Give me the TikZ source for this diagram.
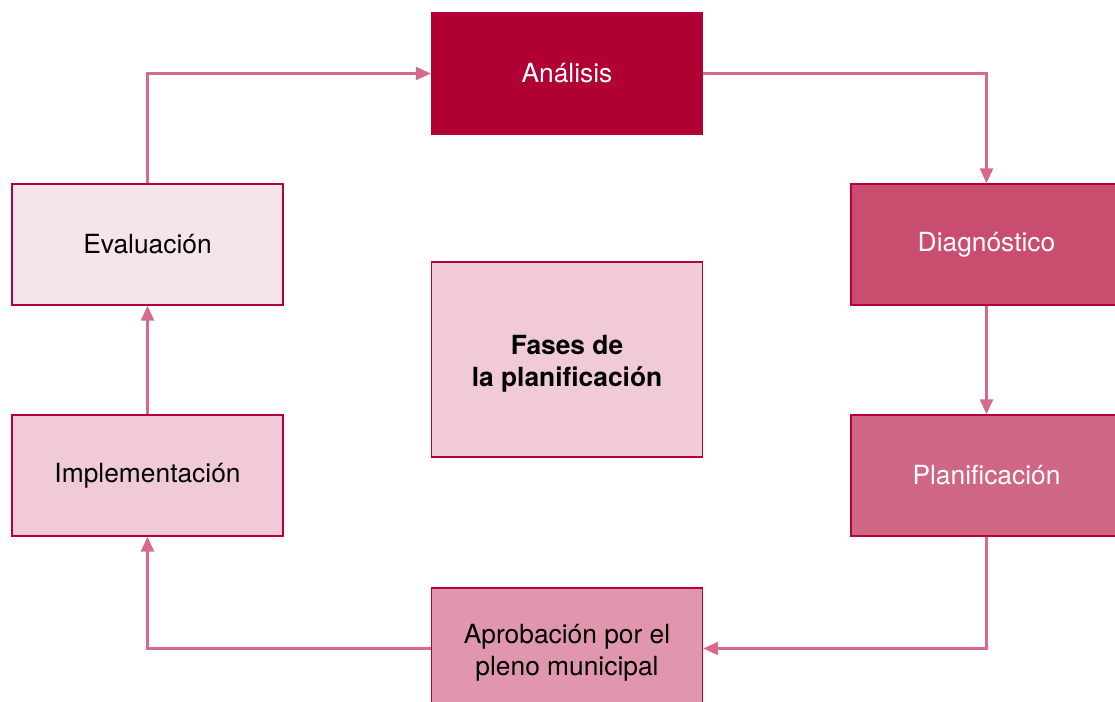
\documentclass[tikz,border=0pt]{standalone}
\usepackage{fontspec}
\setmainfont{TeX Gyre Heros}
\usepackage{tikz}
\usetikzlibrary{positioning,arrows.meta}

\definecolor{borde}{HTML}{B5003A}
\definecolor{flechacol}{HTML}{D46A8C}
\definecolor{faseA}{HTML}{B00034}
\definecolor{faseB}{HTML}{C84D6F}
\definecolor{faseC}{HTML}{CF6683}
\definecolor{faseD}{HTML}{E096AD}
\definecolor{faseE}{HTML}{F0CAD6}
\definecolor{faseF}{HTML}{F6E4EB}

\tikzset{
  fase/.style={draw=borde, line width=0.8pt, rectangle, align=center,
    minimum width=5.42cm, minimum height=2.42cm, inner sep=2pt,
    font=\fontsize{15}{18}\selectfont},
  flecha/.style={draw=flechacol, line width=1.3pt,
    -{Triangle[length=3mm,width=2.6mm]}}
}
\newcommand{\dosLineas}[2]{\raisebox{-2.8pt}[\height][\depth]{\begin{tabular}{@{}c@{}}#1\\#2\end{tabular}}}

\begin{document}
\begin{tikzpicture}[x=0.02cm,y=-0.02cm]
				\useasboundingbox (0,0) rectangle (1115,702);
				\clip (0,0) rectangle (1115,702);
				\node[fase, fill=faseA, text=white] (analisis) at (567, 73.5) {Análisis};
				\node[fase, fill=faseB, text=white] (diagnostico) at (986.5, 244.5) {Diagnóstico};
				\node[fase, fill=faseC, text=white] (planificacion) at (986.5, 475.5) {Planificación};
				\node[fase, fill=faseD] (aprobacion) at (567, 648.5) {\dosLineas{Aprobación por el}{pleno municipal}};
				\node[fase, fill=faseE] (implementacion) at (147.5, 475.5) {Implementación};
				\node[fase, fill=faseF] (evaluacion) at (147.5, 244.5) {Evaluación};
				\node[fase, fill=faseE, minimum height=3.9cm, font=\fontsize{15}{18}\selectfont\bfseries] (fases) at (567, 359.5) {\dosLineas{Fases de}{la planificación}};
				\draw[flecha] (evaluacion.north) |- (analisis.west);
				\draw[flecha] (analisis.east) -| (diagnostico.north);
				\draw[flecha] (diagnostico.south) -- (planificacion.north);
				\draw[flecha] (planificacion.south) |- (aprobacion.east);
				\draw[flecha] (aprobacion.west) -| (implementacion.south);
				\draw[flecha] (implementacion.north) -- (evaluacion.south);
\end{tikzpicture}
\end{document}
